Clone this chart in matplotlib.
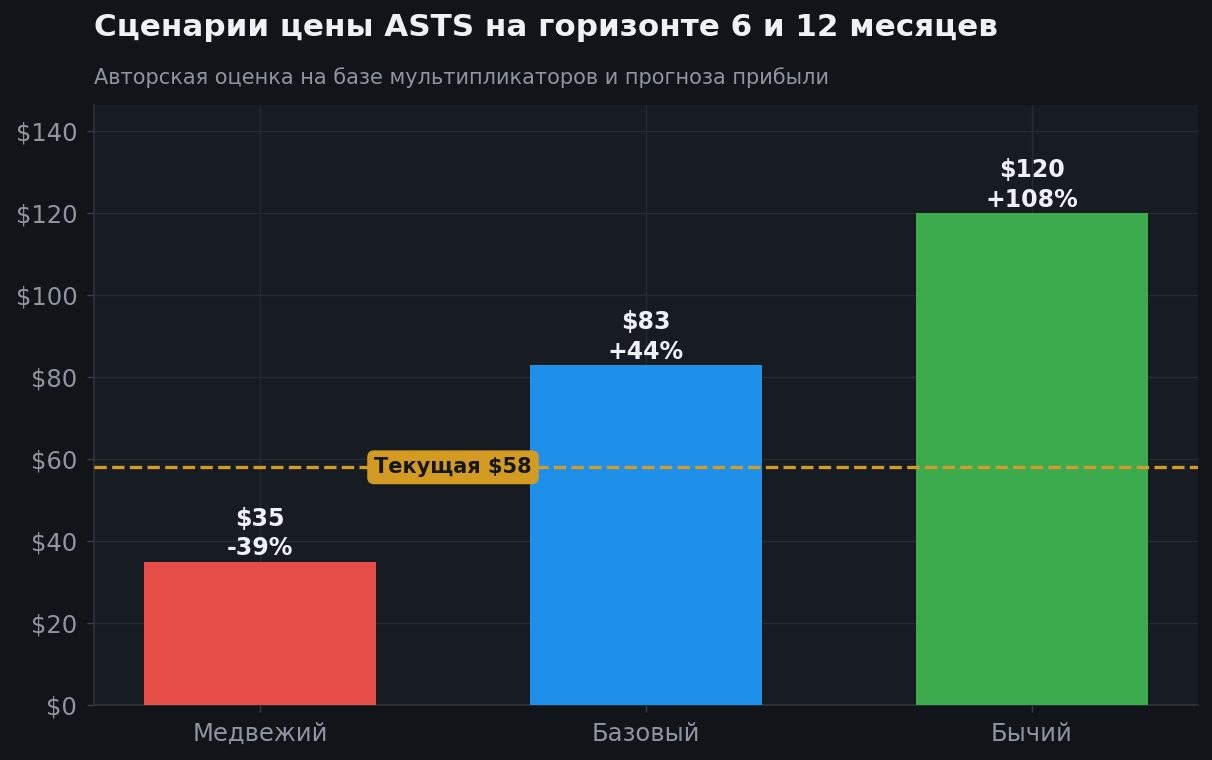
import matplotlib.pyplot as plt
from matplotlib.ticker import FuncFormatter

plt.rcParams['font.family'] = ['DejaVu Sans']

scenarios = ['Медвежий', 'Базовый', 'Бычий']
prices = [35, 83, 120]
changes = ['-39%', '+44%', '+108%']
current_price = 58
colors = ['#e64d47', '#1f90e9', '#3bab4e']

BG = '#111418'
AX_BG = '#171b22'
TXT = '#8f96a1'

fig = plt.figure(figsize=(12.12, 7.6), dpi=100, facecolor=BG)
ax = fig.add_axes([94/1212, 55/760, (1198-94)/1212, 600/760])
ax.set_facecolor(AX_BG)

x = list(range(len(scenarios)))
ax.bar(x, prices, width=0.6, color=colors, zorder=3)
ax.set_ylim(0, 146.4)
ax.set_xticks(x)
ax.set_xticklabels(scenarios)
ax.set_yticks(range(0, 141, 20))
ax.yaxis.set_major_formatter(FuncFormatter(lambda v, p: '$%d' % v))
ax.tick_params(colors=TXT, labelsize=17.5, length=5, width=1)
ax.tick_params(axis='x', pad=7, color='#3a3f47')
ax.tick_params(axis='y', pad=7, color='#3a3f47')
ax.grid(True, color='#262b34', linewidth=1, zorder=0)
for s in ['top', 'right']:
    ax.spines[s].set_visible(False)
for s in ['left', 'bottom']:
    ax.spines[s].set_color('#2f343c')
    ax.spines[s].set_linewidth(1.2)

for xi, p, c in zip(x, prices, changes):
    ax.text(xi, p + 0.3, '$%d\n%s' % (p, c), ha='center', va='bottom',
            color='#eef1f5', fontsize=17, fontweight='bold', linespacing=1.3,
            zorder=5)

# current price line + label
ax.axhline(current_price, color='#d39b2a', linestyle='--', linewidth=2.4,
           zorder=4)
ax.text(0.5, current_price, 'Текущая $%d' % current_price, ha='center',
        va='center', fontsize=15, fontweight='bold', color='#15171b', zorder=6,
        bbox=dict(boxstyle='round,pad=0.3', fc='#d39b22', ec='#d39b22'))

fig.text(94/1212, 1 - 28/760, 'Сценарии цены ASTS на горизонте 6 и 12 месяцев',
         color='#eef1f5', fontsize=22.3, fontweight='bold', va='center')
fig.text(94/1212, 1 - 78/760, 'Авторская оценка на базе мультипликаторов и прогноза прибыли',
         color=TXT, fontsize=15, va='center')

fig.savefig('out.png', dpi=100, facecolor=BG)
